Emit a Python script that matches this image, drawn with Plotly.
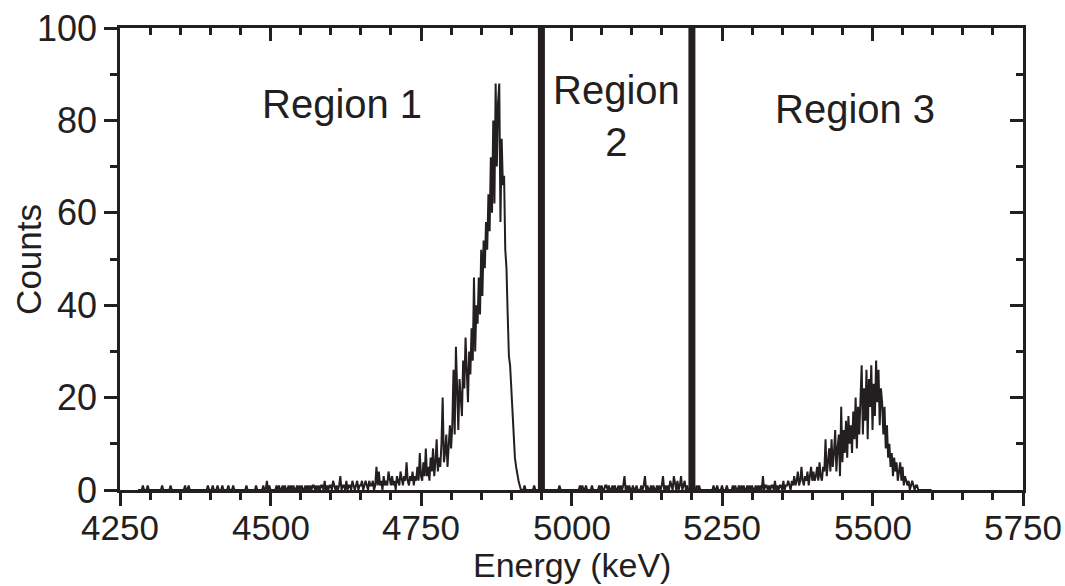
import numpy as np
import plotly.graph_objects as go

# ---- data -------------------------------------------------------------
CHANNEL_START_KEV = 4280
CHANNEL_WIDTH_KEV = 2

# counts per 2 keV channel, 20 channels per row (row start energy in comment)
counts_rows = [
    [0,0,0,0,1,0,0,0,1,0,0,0,0,0,0,0,0,0,0,0],            # 4280
    [1,0,0,0,0,0,0,1,0,0,0,0,0,0,0,0,0,0,0,1],            # 4320
    [0,0,1,0,0,0,0,0,0,0,0,0,0,0,0,0,0,0,1,0],            # 4360
    [0,0,1,0,0,0,1,0,0,0,1,0,0,0,0,1,0,0,0,1],            # 4400
    [0,0,0,0,0,0,0,0,0,0,1,0,0,0,0,0,0,0,1,0],            # 4440
    [0,0,0,0,1,0,0,2,0,1,0,0,0,0,0,1,0,1,0,0],            # 4480
    [1,0,1,0,0,1,0,1,0,1,0,0,1,0,1,0,1,0,0,1],            # 4520
    [0,1,0,1,0,1,1,0,1,0,1,0,1,1,0,2,0,1,0,1],            # 4560
    [1,0,2,1,0,1,0,1,3,0,1,1,0,2,0,1,1,0,2,1],            # 4600
    [0,1,2,0,1,1,2,0,1,2,1,0,2,1,1,2,0,1,5,1],            # 4640
    [4,1,2,0,3,1,2,1,4,2,1,3,1,2,0,3,2,1,4,2],            # 4680
    [1,3,2,6,2,1,3,2,4,1,3,2,5,2,8,3,2,6,3,9],            # 4720
    [3,5,2,7,4,9,3,6,11,4,7,5,10,20,6,8,12,5,9,14],       # 4760
    [9,14,26,12,31,18,13,24,20,16,28,22,33,24,19,30,25,35,28,46],  # 4800
    [30,40,36,46,38,52,42,54,48,58,52,64,56,72,60,80,62,88,70,84], # 4840
    [88,58,76,66,68,52,48,38,29,27,22,16,11,7,5,3,2,1,0,0],        # 4880
    [0,1,0,0,0,0,0,0,0,1,0,0,0,0,0,0,0,0,0,0],            # 4920
    [0,0,0,0,0,0,0,0,0,0,1,0,0,0,0,0,0,0,0,0],            # 4960
    [0,0,0,0,0,0,0,1,0,1,0,0,1,0,0,0,0,1,0,0],            # 5000
    [0,0,0,1,0,1,0,0,1,1,0,1,0,0,1,0,1,0,0,1],            # 5040
    [0,1,0,1,3,0,1,0,1,0,0,1,0,0,1,0,0,0,1,0],            # 5080
    [1,3,0,1,0,0,1,0,1,0,0,1,0,1,0,1,3,0,1,0],            # 5120
    [1,0,2,1,0,3,1,0,2,0,1,3,0,1,2,0,1,0,0,0],            # 5160
    [0,0,0,0,1,0,1,0,0,0,0,0,0,0,0,0,0,0,1,0],            # 5200
    [0,1,0,0,0,1,0,0,0,1,0,0,0,0,1,0,1,0,0,1],            # 5240
    [0,1,0,1,0,0,1,0,1,0,1,0,0,1,0,1,0,1,0,3],            # 5280
    [0,1,1,0,1,0,1,1,0,2,0,1,0,1,1,0,2,0,1,1],            # 5320
    [2,1,0,2,1,3,1,2,4,1,2,5,2,1,3,2,4,1,3,5],            # 5360
    [2,4,2,3,5,2,6,3,2,5,4,11,3,6,9,4,11,5,8,13],         # 5400
    [4,9,12,3,18,6,13,8,15,7,16,10,14,8,17,11,20,9,18,12],# 5440
    [20,27,12,22,15,26,11,24,18,27,13,23,16,28,19,26,14,22,19,12], # 5480
    [18,9,14,7,10,5,8,3,7,4,6,2,4,6,2,5,1,3,2,1],         # 5520
    [2,0,1,2,1,0,1,1,0,0,0,0,0,0,0,0,0,0,0,0],            # 5560
]

region_boundaries_kev = [4950, 5200]
region_labels = ["Region 1", "Region<br>2", "Region 3"]
region_label_x = [4619, 5075, 5471]
region_label_y = [83.5, 81, 82.5]

x_tick_vals = [4250, 4500, 4750, 5000, 5250, 5500, 5750]
x_tick_text = ["4250", "4500", "4750", "5000", "5250", "5500", "5750"]
y_tick_vals = [0, 20, 40, 60, 80, 100]
x_title = "Energy (keV)"
y_title = "Counts"

# ---- build --------------------------------------------------------------
counts = [c for row in counts_rows for c in row]
energies = CHANNEL_START_KEV + CHANNEL_WIDTH_KEV * np.arange(len(counts))

INK = "#231f20"
FONT = "Liberation Sans, Arial, Helvetica, sans-serif"

fig = go.Figure()
fig.add_trace(go.Scatter(x=energies, y=counts, mode="lines",
                         line=dict(color=INK, width=2.0),
                         showlegend=False, hoverinfo="skip"))
# invisible trace to anchor the mirrored (top/right) axes
fig.add_trace(go.Scatter(x=[x_tick_vals[0]], y=[y_tick_vals[0]], xaxis="x2", yaxis="y2",
                         mode="markers", marker=dict(opacity=0), showlegend=False,
                         hoverinfo="skip"))

for xb in region_boundaries_kev:
    fig.add_shape(type="line", x0=xb, x1=xb, y0=0, y1=100, xref="x", yref="y",
                  line=dict(color=INK, width=7))

for txt, xa, ya in zip(region_labels, region_label_x, region_label_y):
    fig.add_annotation(x=xa, y=ya, xref="x", yref="y", text=txt, showarrow=False,
                       font=dict(family=FONT, size=40, color=INK),
                       xanchor="center", yanchor="middle")

# x tick labels as annotations (tight placement like the original)
for tv, tt in zip(x_tick_vals, x_tick_text):
    fig.add_annotation(x=tv, y=-0.036, xref="x", yref="paper", text=tt,
                       showarrow=False, borderpad=0,
                       font=dict(family=FONT, size=35, color=INK),
                       xanchor="center", yanchor="top")

# axis titles as annotations (fixed margins)
fig.add_annotation(x=0.5, y=-0.163, xref="paper", yref="paper", text=x_title,
                   showarrow=False, borderpad=0,
                   font=dict(family=FONT, size=34, color=INK),
                   xanchor="center", yanchor="middle")
fig.add_annotation(x=-0.102, y=0.5, xref="paper", yref="paper", text=y_title,
                   showarrow=False, textangle=-90,
                   font=dict(family=FONT, size=35, color=INK),
                   xanchor="center", yanchor="middle")

axis_common = dict(showgrid=False, zeroline=False, showline=True, linecolor=INK,
                   linewidth=2.5, tickcolor=INK, tickwidth=2.5, automargin=False,
                   tickfont=dict(family=FONT, size=36, color=INK))

fig.update_layout(
    width=1065, height=586, autosize=False,
    margin=dict(l=120, r=42, t=28, b=96),
    paper_bgcolor="white", plot_bgcolor="white",
    xaxis=dict(range=[4250, 5750], tickvals=x_tick_vals, ticks="outside", ticklen=13,
               showticklabels=False,
               minor=dict(dtick=50, tick0=4250, ticks="outside", ticklen=7,
                          tickwidth=2.5, tickcolor=INK),
               **axis_common),
    yaxis=dict(range=[0, 100], tickvals=y_tick_vals, ticks="outside", ticklen=13,
               minor=dict(dtick=10, tick0=0, ticks="outside", ticklen=7,
                          tickwidth=2.5, tickcolor=INK),
               **axis_common),
    xaxis2=dict(overlaying="x", side="top", range=[4250, 5750], tickvals=x_tick_vals,
                ticks="inside", ticklen=13, showticklabels=False,
                minor=dict(dtick=50, tick0=4250, ticks="inside", ticklen=7,
                           tickwidth=2.5, tickcolor=INK),
                anchor="y2", **axis_common),
    yaxis2=dict(overlaying="y", side="right", range=[0, 100], tickvals=y_tick_vals,
                ticks="inside", ticklen=13, showticklabels=False,
                minor=dict(dtick=10, tick0=0, ticks="inside", ticklen=7,
                           tickwidth=2.5, tickcolor=INK),
                anchor="x2", **axis_common),
)

fig.write_html("out.html")
